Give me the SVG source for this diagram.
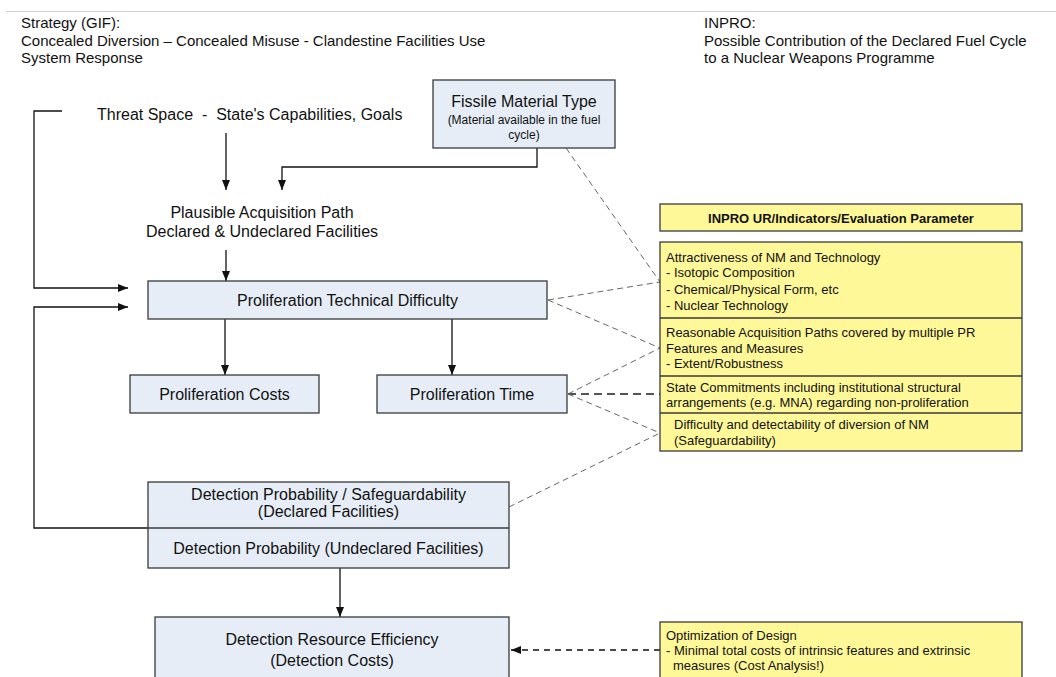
<svg xmlns="http://www.w3.org/2000/svg" width="1056" height="677" viewBox="0 0 1056 677">
<defs>
<style>
text{font-family:"Liberation Sans",Arial,sans-serif;fill:#111}
.hd{font-size:15px}
.lb{font-size:16px;text-anchor:middle}
.sm{font-size:12px;text-anchor:middle}
.yl{font-size:13px}
.yb{font-size:13px;font-weight:bold;text-anchor:middle}
.node{fill:#E6EDF6;stroke:#3a3a3a;stroke-width:1.3}
.ynode{fill:#FFF899;stroke:#3a3a3a;stroke-width:1.3}
.ydiv{stroke:#3a3a3a;stroke-width:1.3}
.conn{fill:none;stroke:#111;stroke-width:1.3}
.dash{fill:none;stroke:#666;stroke-width:1;stroke-dasharray:6 4}
.dashdk{fill:none;stroke:#555;stroke-width:1.8;stroke-dasharray:8 5}
</style>
<marker id="ah" markerUnits="userSpaceOnUse" markerWidth="10" markerHeight="8" refX="10" refY="4" orient="auto">
<path d="M0,0 L10,4 L0,8 z" fill="#111"/>
</marker>
</defs>
<rect width="1056" height="677" fill="#fff"/>
<line x1="6" y1="11.5" x2="1056" y2="11.5" stroke="#cfcfcf" stroke-width="1"/>

<g id="header-left">
<text class="hd" x="21" y="28">Strategy (GIF):</text>
<text class="hd" x="21" y="45.5">Concealed Diversion – Concealed Misuse - Clandestine Facilities Use</text>
<text class="hd" x="21" y="63">System Response</text>
</g>
<g id="header-right">
<text class="hd" x="704" y="28">INPRO:</text>
<text class="hd" x="704" y="45.5">Possible Contribution of the Declared Fuel Cycle</text>
<text class="hd" x="704" y="63">to a Nuclear Weapons Programme</text>
</g>

<g id="connectors">
<path class="conn" d="M226 133 V190" marker-end="url(#ah)"/>
<path class="conn" d="M537 148 V167 H282 V190" marker-end="url(#ah)"/>
<path class="conn" d="M226 250 V281" marker-end="url(#ah)"/>
<path class="conn" d="M62 111 H34 V288 H128" marker-end="url(#ah)"/>
<path class="conn" d="M148 528 H34 V307 H128" marker-end="url(#ah)"/>
<path class="conn" d="M225 319 V375" marker-end="url(#ah)"/>
<path class="conn" d="M452 319 V375" marker-end="url(#ah)"/>
<path class="conn" d="M340 568 V617" marker-end="url(#ah)"/>
<path class="dash" d="M566 148 L660 282"/>
<path class="dash" d="M548 300 L660 282"/>
<path class="dash" d="M548 300 L660 348"/>
<path class="dash" d="M568 394 L660 348"/>
<path class="dashdk" d="M568 394 H660"/>
<path class="dash" d="M568 394 L660 433"/>
<path class="dash" d="M509 507 L660 433"/>
<path class="conn" d="M660 650 H511" stroke-dasharray="6 5" marker-end="url(#ah)"/>
</g>

<g id="threat-space">
<text x="97" y="119.5" font-size="16px" style="white-space:pre">Threat Space  -  State's Capabilities, Goals</text>
</g>

<g id="fissile-material">
<rect class="node" x="433" y="80" width="182" height="68"/>
<text class="lb" x="524" y="106.5" font-size="15px">Fissile Material Type</text>
<text class="sm" x="524" y="124">(Material available in the fuel</text>
<text class="sm" x="524" y="139">cycle)</text>
</g>

<g id="plausible-path">
<text class="lb" x="262" y="217.5">Plausible Acquisition Path</text>
<text class="lb" x="262" y="236.5">Declared &amp; Undeclared Facilities</text>
</g>

<g id="technical-difficulty">
<rect class="node" x="148" y="281" width="399" height="38"/>
<text class="lb" x="347.5" y="305.5">Proliferation Technical Difficulty</text>
</g>

<g id="proliferation-costs">
<rect class="node" x="130" y="375" width="189" height="38"/>
<text class="lb" x="224.5" y="399.5">Proliferation Costs</text>
</g>

<g id="proliferation-time">
<rect class="node" x="377" y="375" width="190" height="38"/>
<text class="lb" x="472" y="399.5">Proliferation Time</text>
</g>

<g id="detection-probability">
<rect class="node" x="148" y="482" width="361" height="86"/>
<line x1="148" y1="528" x2="509" y2="528" stroke="#3a3a3a" stroke-width="1.3"/>
<text class="lb" x="328.5" y="499.5">Detection Probability / Safeguardability</text>
<text class="lb" x="328.5" y="516.5">(Declared Facilities)</text>
<text class="lb" x="328.5" y="553.5">Detection Probability (Undeclared Facilities)</text>
</g>

<g id="detection-efficiency">
<rect class="node" x="155" y="617" width="354" height="75"/>
<text class="lb" x="332" y="644.5">Detection Resource Efficiency</text>
<text class="lb" x="332" y="665.5">(Detection Costs)</text>
</g>

<g id="inpro-header">
<rect class="ynode" x="660" y="204" width="362" height="27"/>
<text class="yb" x="841" y="222.5">INPRO UR/Indicators/Evaluation Parameter</text>
</g>

<g id="inpro-indicators">
<rect class="ynode" x="660" y="242" width="362" height="209"/>
<line class="ydiv" x1="660" y1="318" x2="1022" y2="318"/>
<line class="ydiv" x1="660" y1="376" x2="1022" y2="376"/>
<line class="ydiv" x1="660" y1="413" x2="1022" y2="413"/>
<text class="yl" x="666" y="261.5">Attractiveness of NM and Technology</text>
<text class="yl" x="666" y="277">- Isotopic Composition</text>
<text class="yl" x="666" y="293.5">- Chemical/Physical Form, etc</text>
<text class="yl" x="666" y="309.5">- Nuclear Technology</text>
<text class="yl" x="666" y="336.5">Reasonable Acquisition Paths covered by multiple PR</text>
<text class="yl" x="666" y="352.5">Features and Measures</text>
<text class="yl" x="666" y="367.5">- Extent/Robustness</text>
<text class="yl" x="666" y="391.5">State Commitments including institutional structural</text>
<text class="yl" x="666" y="406.5">arrangements (e.g. MNA) regarding non-proliferation</text>
<text class="yl" x="674" y="428.5">Difficulty and detectability of diversion of NM</text>
<text class="yl" x="674" y="444.5">(Safeguardability)</text>
</g>

<g id="optimization">
<rect class="ynode" x="660" y="622" width="362" height="70"/>
<text class="yl" x="666" y="639.5">Optimization of Design</text>
<text class="yl" x="666" y="654.5">- Minimal total costs of intrinsic features and extrinsic</text>
<text class="yl" x="673" y="669.5">measures (Cost Analysis!)</text>
</g>
</svg>
